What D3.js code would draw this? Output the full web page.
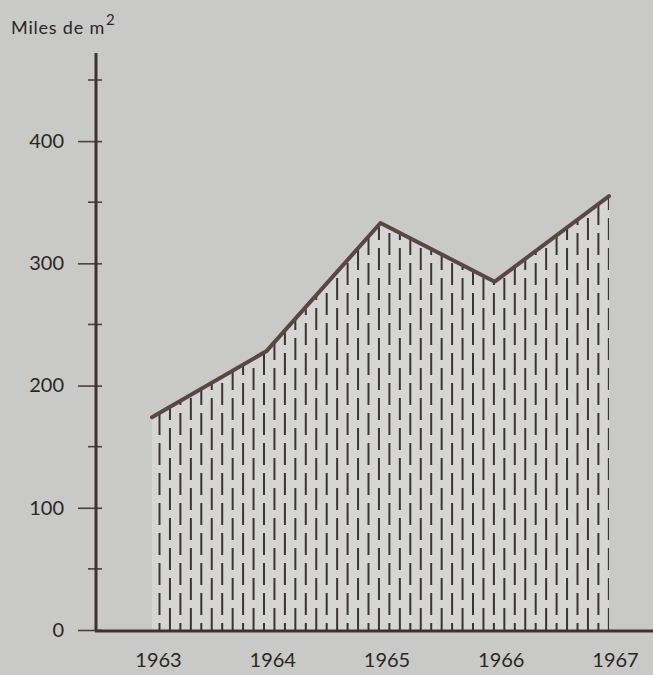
<!DOCTYPE html>
<html>
<head>
<meta charset="utf-8">
<script src="https://cdn.jsdelivr.net/npm/d3@7"></script>
<style>
  html, body { margin: 0; padding: 0; background: #c9c9c7; }
  svg { display: block; }
  text { font-family: Lato, "Open Sans", sans-serif; fill: #2b2725; }
</style>
</head>
<body>
<svg id="chart" width="653" height="675"></svg>
<script>
// ---- data ----
const years = [1963, 1964, 1965, 1966, 1967];
const values = [174, 228, 333, 285, 355];          // miles de m²
const majorTicks = [0, 100, 200, 300, 400];
const minorTicks = [50, 150, 250, 350, 450];
const yLabel = "Miles de m";
const yLabelSup = "2";

const W = 653, H = 675;
const svg = d3.select("#chart");
const ink = "#2b2725";
const lineColor = "#5a4642";

const x = d3.scaleLinear().domain([1963, 1967]).range([152, 609]);
const y = d3.scaleLinear().domain([0, 450]).range([630, 80]);
const axisX = 96;

const data = years.map((yr, i) => ({ yr, v: values[i] }));

// area fill
const area = d3.area().x(d => x(d.yr)).y0(y(0)).y1(d => y(d.v));
svg.append("defs").append("clipPath").attr("id", "clipA")
  .append("path").attr("d", area(data));
svg.append("path").attr("d", area(data)).attr("fill", "#d5d5d3");

// hatching: dashed vertical lines, staggered
const hatch = svg.append("g").attr("clip-path", "url(#clipA)");
const step = 10.45;
const xs = d3.range(159.5, 611, step);
xs.forEach((hx, i) => {
  hatch.append("line")
    .attr("x1", hx).attr("x2", hx)
    .attr("y1", y(0)).attr("y2", 150)
    .attr("stroke", "#3a3432").attr("stroke-width", 2)
    .attr("stroke-dasharray", "22,8")
    .attr("stroke-dashoffset", i % 2 ? 0 : 15);
});

// top line
const line = d3.line().x(d => x(d.yr)).y(d => y(d.v));
svg.append("path").attr("d", line(data))
  .attr("fill", "none").attr("stroke", lineColor)
  .attr("stroke-width", 4).attr("stroke-linejoin", "round").attr("stroke-linecap", "round");

// y axis
const yAxis = d3.axisLeft(y).tickValues(majorTicks).tickSize(0).tickPadding(0).tickFormat(d3.format("d"));
const gy = svg.append("g").attr("transform", `translate(${axisX},0)`).call(yAxis);
gy.select(".domain").remove();
gy.selectAll(".tick text").attr("x", -32).attr("font-size", 20).attr("fill", ink)
  .style("font-family", "Lato, 'Open Sans', sans-serif");
gy.selectAll(".tick").append("line").attr("x1", -18).attr("x2", 6).attr("stroke", "#4a403d").attr("stroke-width", 1.6);
svg.append("g").selectAll("line").data(minorTicks).join("line")
  .attr("x1", axisX - 8).attr("x2", axisX + 6)
  .attr("y1", d => y(d)).attr("y2", d => y(d))
  .attr("stroke", "#4a403d").attr("stroke-width", 1.6);
svg.append("line").attr("x1", axisX).attr("x2", axisX).attr("y1", 53).attr("y2", y(0) + 1)
  .attr("stroke", "#3c3230").attr("stroke-width", 3);

// x axis baseline
svg.append("line").attr("x1", axisX - 1).attr("x2", W).attr("y1", y(0) + 1).attr("y2", y(0) + 1)
  .attr("stroke", "#3c3230").attr("stroke-width", 3);

// year labels
const xAxis = d3.axisBottom(x).tickValues(years).tickFormat(d3.format("d")).tickSize(0);
const gx = svg.append("g").attr("transform", `translate(6,${y(0)})`).call(xAxis);
gx.select(".domain").remove();
gx.selectAll(".tick text").attr("y", 23).attr("font-size", 20).attr("fill", ink)
  .style("font-family", "Lato, 'Open Sans', sans-serif");

// unit label
const t = svg.append("text").attr("x", 11).attr("y", 34).attr("font-size", 18).attr("letter-spacing", 0.8);
t.append("tspan").text(yLabel);
t.append("tspan").attr("dx", 1).attr("dy", -9).attr("font-size", 15).text(yLabelSup);
</script>
</body>
</html>
